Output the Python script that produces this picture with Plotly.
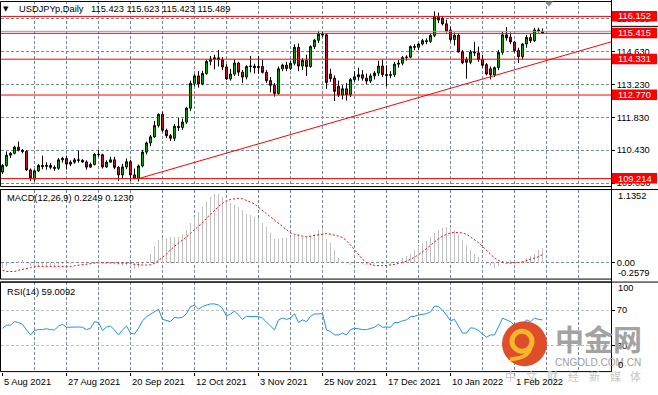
import plotly.graph_objects as go

# ---------------- data ----------------
bar_idx = list(range(136))
date_labels = ["5 Aug 2021", "27 Aug 2021", "20 Sep 2021", "12 Oct 2021", "3 Nov 2021",
               "25 Nov 2021", "17 Dec 2021", "10 Jan 2022", "1 Feb 2022"]
date_label_idx = [0, 16, 32, 48, 64, 80, 96, 112, 128]

open_ = [109.50, 109.78, 110.22, 110.30, 110.56, 110.43, 110.38, 109.59, 109.20, 109.55,
         109.78, 109.74, 109.78, 109.70, 109.66, 110.02, 110.08, 109.84, 109.92, 110.02,
         110.00, 109.93, 109.71, 109.82, 110.26, 110.24, 109.72, 109.92, 110.02, 109.70,
         109.38, 109.72, 109.94, 109.38, 109.22, 109.76, 110.35, 110.74, 111.00, 111.48,
         111.96, 111.28, 111.05, 110.94, 111.45, 111.40, 111.63, 112.22, 113.28, 113.60,
         113.26, 113.70, 114.22, 114.32, 114.37, 114.29, 113.98, 113.47, 113.68, 114.15,
         113.76, 113.55, 114.00, 114.02, 113.95, 114.00, 113.75, 113.40, 113.20, 112.85,
         113.90, 114.06, 113.92, 114.14, 114.82, 114.02, 114.26, 114.00, 114.85, 115.12,
         115.38, 115.35, 113.68, 113.50, 113.16, 112.78, 113.05, 112.80, 113.44, 113.56,
         113.65, 113.50, 113.38, 113.60, 113.72, 114.02, 113.66, 113.62, 113.65, 114.10,
         114.14, 114.38, 114.40, 114.85, 114.82, 114.96, 115.10, 115.07, 115.32, 116.12,
         116.05, 115.82, 115.55, 115.15, 115.33, 114.62, 114.30, 114.18, 114.62, 114.58,
         114.30, 114.08, 113.90, 113.65, 113.95, 114.60, 115.35, 115.25, 115.04, 114.68,
         114.42, 114.96, 115.24, 115.10, 115.56, 115.423]
high = [109.84, 110.38, 110.35, 110.62, 110.80, 110.48, 110.42, 109.65, 109.62, 109.85,
        110.20, 109.92, 109.88, 109.78, 110.10, 110.15, 110.20, 110.00, 110.10, 110.42,
        110.05, 110.00, 109.90, 110.30, 110.45, 110.28, 110.00, 110.15, 110.15, 109.75,
        109.85, 110.08, 110.02, 109.65, 109.82, 110.45, 110.80, 111.08, 111.68, 112.00,
        112.08, 111.35, 111.12, 111.55, 111.80, 111.78, 112.28, 113.40, 113.68, 113.80,
        113.82, 114.30, 114.45, 114.50, 114.70, 114.40, 114.10, 113.90, 114.30, 114.20,
        113.85, 114.05, 114.45, 114.12, 114.45, 114.30, 113.85, 113.55, 113.30, 114.00,
        114.12, 114.20, 114.25, 114.95, 114.98, 114.35, 114.50, 114.90, 115.18, 115.52,
        115.50, 115.42, 113.90, 113.62, 113.40, 113.20, 113.30, 113.50, 113.80, 113.95,
        113.85, 113.70, 113.70, 113.80, 114.25, 114.30, 114.05, 113.80, 114.20, 114.28,
        114.45, 114.48, 114.90, 114.95, 115.00, 115.18, 115.20, 115.40, 116.35, 116.30,
        116.15, 116.00, 115.70, 115.45, 115.40, 114.70, 114.40, 114.70, 115.05, 114.85,
        114.50, 114.15, 114.00, 114.00, 114.70, 115.48, 115.68, 115.45, 115.10, 114.80,
        115.00, 115.35, 115.40, 115.65, 115.65, 115.623]
low = [109.42, 109.72, 110.10, 110.25, 110.38, 110.30, 109.55, 109.11, 109.10, 109.50,
       109.62, 109.60, 109.62, 109.55, 109.60, 109.90, 109.60, 109.75, 109.85, 109.90,
       109.90, 109.60, 109.68, 109.78, 110.15, 109.65, 109.68, 109.90, 109.62, 109.12,
       109.20, 109.62, 109.12, 109.20, 109.10, 109.70, 110.25, 110.60, 110.95, 111.40,
       111.20, 110.95, 110.82, 110.82, 111.25, 111.30, 111.55, 112.10, 113.15, 113.10,
       113.20, 113.65, 114.05, 113.88, 114.00, 113.85, 113.42, 113.40, 113.60, 113.60,
       113.30, 113.45, 113.75, 113.70, 113.70, 113.70, 113.30, 112.90, 112.72, 112.80,
       113.80, 113.80, 113.85, 114.05, 113.80, 113.85, 113.60, 113.95, 114.75, 115.00,
       115.25, 113.05, 113.35, 112.53, 112.70, 112.60, 112.55, 112.70, 113.35, 113.40,
       113.40, 113.25, 113.30, 113.45, 113.60, 113.55, 113.15, 113.50, 113.55, 113.95,
       114.05, 114.25, 114.35, 114.70, 114.70, 114.90, 114.95, 115.00, 115.25, 115.85,
       115.75, 115.45, 115.05, 114.90, 114.60, 114.10, 113.48, 114.10, 114.45, 114.20,
       113.95, 113.62, 113.45, 113.55, 113.85, 114.50, 115.10, 114.95, 114.60, 114.15,
       114.30, 114.80, 115.00, 115.05, 115.45, 115.423]
close = [109.78, 110.22, 110.30, 110.56, 110.43, 110.38, 109.59, 109.24, 109.55, 109.78,
         109.74, 109.78, 109.70, 109.66, 110.02, 110.08, 109.84, 109.92, 110.02, 110.00,
         109.93, 109.71, 109.82, 110.26, 110.24, 109.72, 109.92, 110.02, 109.70, 109.38,
         109.72, 109.94, 109.38, 109.22, 109.76, 110.35, 110.74, 111.00, 111.48, 111.96,
         111.28, 111.05, 110.94, 111.45, 111.40, 111.63, 112.22, 113.28, 113.60, 113.26,
         113.70, 114.22, 114.32, 114.37, 114.29, 113.98, 113.47, 113.68, 114.15, 113.76,
         113.55, 114.00, 114.02, 113.95, 114.00, 113.75, 113.40, 113.20, 112.85, 113.90,
         114.06, 113.92, 114.14, 114.82, 114.02, 114.26, 114.00, 114.85, 115.12, 115.38,
         115.35, 113.32, 113.48, 112.94, 112.78, 113.05, 112.80, 113.44, 113.56, 113.65,
         113.50, 113.38, 113.60, 113.72, 114.02, 113.66, 113.62, 113.65, 114.10, 114.14,
         114.38, 114.40, 114.85, 114.82, 114.96, 115.10, 115.07, 115.32, 116.12, 115.98,
         115.82, 115.50, 115.15, 115.33, 114.62, 114.16, 114.18, 114.62, 114.58, 114.30,
         114.05, 113.68, 113.65, 113.95, 114.60, 115.35, 115.22, 115.05, 114.68, 114.42,
         114.96, 115.24, 115.10, 115.56, 115.52, 115.489]

macd_main = [-0.08, -0.05, -0.02, 0.01, 0.03, 0.04, 0.00, -0.05, -0.07, -0.07,
             -0.07, -0.06, -0.06, -0.06, -0.04, -0.02, -0.02, -0.02, -0.01, 0.00,
             0.00, -0.01, -0.01, 0.01, 0.03, 0.01, 0.00, 0.00, -0.01, -0.04,
             -0.05, -0.04, -0.07, -0.10, -0.08, -0.03, 0.03, 0.14, 0.25, 0.35,
             0.38, 0.38, 0.39, 0.40, 0.40, 0.45, 0.51, 0.61, 0.71, 0.79,
             0.87, 0.94, 1.02, 1.06, 1.06, 1.02, 0.97, 0.92, 0.89, 0.86,
             0.82, 0.76, 0.74, 0.71, 0.69, 0.62, 0.56, 0.46, 0.36, 0.36,
             0.38, 0.38, 0.40, 0.43, 0.43, 0.40, 0.40, 0.41, 0.45, 0.51,
             0.53, 0.36, 0.30, 0.20, 0.07, 0.03, -0.01, -0.04, -0.02, -0.01,
             -0.02, -0.04, -0.04, -0.03, -0.01, -0.02, -0.02, -0.02, 0.01, 0.03,
             0.07, 0.10, 0.14, 0.20, 0.25, 0.30, 0.34, 0.39, 0.46, 0.51,
             0.53, 0.55, 0.55, 0.51, 0.43, 0.35, 0.27, 0.20, 0.14, 0.08,
             0.02, -0.03, -0.06, -0.09, -0.06, 0.00, 0.03, 0.04, 0.03, 0.01,
             0.03, 0.07, 0.10, 0.14, 0.19, 0.2249]
macd_signal = [-0.12, -0.14, -0.14, -0.14, -0.12, -0.11, -0.09, -0.08, -0.06, -0.06,
               -0.06, -0.06, -0.07, -0.07, -0.07, -0.07, -0.07, -0.06, -0.05, -0.04,
               -0.03, -0.02, -0.015, -0.01, -0.005, -0.005, 0.0, 0.0, 0.0, 0.0,
               0.0, -0.005, -0.01, -0.03, -0.04, -0.04, -0.04, -0.035, -0.015, 0.03,
               0.08, 0.13, 0.20, 0.25, 0.29, 0.34, 0.40, 0.45, 0.51, 0.56,
               0.62, 0.69, 0.75, 0.82, 0.87, 0.92, 0.96, 0.98, 0.99, 1.00,
               0.99, 0.97, 0.94, 0.91, 0.86, 0.80, 0.75, 0.70, 0.65, 0.60,
               0.55, 0.51, 0.46, 0.44, 0.42, 0.41, 0.40, 0.41, 0.42, 0.43,
               0.44, 0.45, 0.44, 0.43, 0.41, 0.39, 0.34, 0.27, 0.20, 0.12,
               0.05, 0.00, -0.03, -0.045, -0.05, -0.05, -0.045, -0.04, -0.03, -0.015,
               0.0, 0.02, 0.05, 0.08, 0.12, 0.165, 0.22, 0.27, 0.32, 0.37,
               0.41, 0.44, 0.46, 0.47, 0.47, 0.46, 0.44, 0.40, 0.36, 0.31,
               0.25, 0.19, 0.12, 0.07, 0.03, 0.005, -0.01, -0.01, -0.01, 0.0,
               0.01, 0.03, 0.05, 0.07, 0.09, 0.1230]
rsi14 = [49.5, 53, 53, 57, 56, 54, 47.6, 42, 47, 48,
         48, 49, 48, 47.6, 52, 54, 50.6, 51, 51, 51,
         50.6, 48, 49.5, 57, 56, 47, 51, 52, 47.6, 42,
         47.6, 52, 44, 43, 49.5, 58, 62.6, 65.6, 68, 71,
         59.6, 58, 57, 62, 61, 62, 66, 74, 75.7, 71,
         74, 75.7, 77, 77, 75.7, 72, 63, 65.6, 69, 64.5,
         59.6, 63, 63, 62.6, 62.6, 61, 56, 52, 47.6, 59,
         61, 59.6, 61, 66, 56, 59, 57, 63, 65.6, 66,
         66, 47.6, 45.7, 42, 42, 44, 42, 48, 49.5, 49,
         48, 48, 49.5, 50.6, 54, 50.6, 51, 50.6, 56, 56,
         58, 59, 62.6, 63, 64.5, 65.6, 66, 68, 74.6, 74,
         70, 64.5, 58, 59.6, 52, 44, 44, 50, 49.5, 47,
         43, 39.4, 42, 42, 51, 61, 59, 57, 53, 49.5,
         53, 59, 57, 61, 59.6, 59.0092]

level_prices = [116.152, 115.415, 114.331, 112.770, 109.214]
bid_price = 115.489
trend_bar = [34.4, 152.1]
trend_price = [109.24, 115.05]
header_name = "USDJPYp,Daily"
header_ohlc = "115.423 115.623 115.423 115.489"

# ---------------- layout helpers (pixel geometry) ----------------
W, H = 658, 395
FONT = "Liberation Sans, Arial, sans-serif"
FS = 9.3
GRID = "#778899"


def px(x):
    return x / W


def py(y):
    return 1 - y / H


P0, Y0, K = 109.03, 184.0, 23.571   # price P0 sits at pixel row Y0; K px per unit


def price_at(y):
    return P0 + (Y0 - y) / K


def price_row(p):
    return round(Y0 - (p - P0) * K - 0.5) + 0.5


XR = [-0.375, 152.125]
grid_idx = list(range(8, 153, 8))

fig = go.Figure()

fig.add_trace(go.Candlestick(
    x=bar_idx, open=open_, high=high, low=low, close=close,
    increasing=dict(fillcolor="#00c000", line=dict(color="#000000", width=1)),
    decreasing=dict(fillcolor="#e0102e", line=dict(color="#000000", width=1)),
    whiskerwidth=0, hoverinfo="skip", showlegend=False, xaxis="x", yaxis="y"))

fig.add_trace(go.Scatter(x=trend_bar, y=trend_price, mode="lines",
                         line=dict(color="#ff0000", width=1),
                         hoverinfo="skip", showlegend=False, xaxis="x", yaxis="y"))

fig.add_trace(go.Bar(x=bar_idx, y=macd_main, width=0.3,
                     marker=dict(color="#c0c0c0", line=dict(width=0)),
                     hoverinfo="skip", showlegend=False, xaxis="x2", yaxis="y2"))
fig.add_trace(go.Scatter(x=bar_idx, y=macd_signal, mode="lines",
                         line=dict(color="#ff0000", width=1, dash="2px,2px"),
                         hoverinfo="skip", showlegend=False, xaxis="x2", yaxis="y2"))

fig.add_trace(go.Scatter(x=bar_idx, y=rsi14, mode="lines",
                         line=dict(color="#1e90ff", width=1),
                         hoverinfo="skip", showlegend=False, xaxis="x3", yaxis="y3"))
# carrier for the bottom tick marks axis
fig.add_trace(go.Scatter(x=[None], y=[None], mode="markers", hoverinfo="skip",
                         showlegend=False, xaxis="x4", yaxis="y3"))

xcommon = dict(range=XR, domain=[px(1), px(611)], tickmode="array", tickvals=grid_idx,
               showticklabels=False, ticks="", showgrid=True, gridcolor=GRID,
               griddash="3px,2px", gridwidth=1, zeroline=False, showline=False,
               fixedrange=True)
tickfont = dict(family=FONT, size=FS, color="#000000")

fig.update_layout(
    width=W, height=H, margin=dict(l=0, r=0, t=0, b=0, pad=0),
    paper_bgcolor="white", plot_bgcolor="white", showlegend=False,
    boxgap=0.32, bargap=0,
    xaxis=dict(**xcommon, anchor="y", rangeslider=dict(visible=False)),
    xaxis2=dict(**xcommon, anchor="y2"),
    xaxis3=dict(**xcommon, anchor="y3"),
    xaxis4=dict(range=XR, domain=[px(1), px(611)], overlaying="x3", anchor="y3",
                tickmode="array", tickvals=date_label_idx, showticklabels=False,
                ticks="outside", ticklen=3, tickcolor="#000000", showgrid=False,
                zeroline=False, showline=False, fixedrange=True),
    yaxis=dict(domain=[py(187.5), py(1.5)], range=[price_at(187.5), price_at(1.5)],
               anchor="x", side="right", tickmode="linear", tick0=109.03, dtick=1.4,
               tickformat=".3f", ticks="outside", ticklen=3, tickcolor="#000000",
               showgrid=True, gridcolor=GRID, griddash="3px,2px", zeroline=False,
               showline=False, tickfont=tickfont, fixedrange=True),
    yaxis2=dict(domain=[py(280.5), py(190.5)], range=[-0.2579, 1.1352], anchor="x2",
                side="right", tickmode="array", tickvals=[0], ticktext=["0.00"],
                ticks="outside", ticklen=3, tickcolor="#000000", showgrid=True,
                gridcolor=GRID, griddash="3px,2px", zeroline=False, showline=False,
                tickfont=tickfont, fixedrange=True),
    yaxis3=dict(domain=[py(373.5), py(283.5)], range=[0.56, 101.7], anchor="x3",
                side="right", tickmode="array", tickvals=[70, 30], ticktext=["70", "30"],
                ticks="outside", ticklen=3, tickcolor="#000000", showgrid=True,
                gridcolor="#c0c0c0", griddash="3px,2px", zeroline=False, showline=False,
                tickfont=tickfont, fixedrange=True),
)

shapes = []
ann = []

# horizontal levels + bid line
yb = price_row(bid_price)
shapes.append(dict(type="line", xref="paper", yref="paper", x0=px(1), x1=px(611),
                   y0=py(yb), y1=py(yb), line=dict(color="#9a9a9a", width=1)))
shapes.append(dict(type="line", xref="paper", yref="paper", x0=px(611.5), x1=px(658),
                   y0=py(26.5), y1=py(26.5), line=dict(color="#000000", width=1)))
for lv in level_prices:
    r = price_row(lv)
    shapes.append(dict(type="line", xref="paper", yref="paper", x0=px(1), x1=px(611),
                       y0=py(r), y1=py(r), line=dict(color="#ff0000", width=1)))
    shapes.append(dict(type="rect", xref="paper", yref="paper", x0=px(612), x1=px(657),
                       y0=py(r - 5.5), y1=py(r + 5), fillcolor="#ff0000",
                       line=dict(width=0), layer="above"))
    ann.append(dict(xref="paper", yref="paper", x=px(634.5), y=py(r), text=f"{lv:.3f}",
                    showarrow=False, xanchor="center", yanchor="middle",
                    font=dict(family=FONT, size=FS, color="#ffffff")))

# panel frames
for top, bot in [(1.5, 187.5), (190.5, 280.5), (283.5, 373.5)]:
    shapes.append(dict(type="rect", xref="paper", yref="paper", x0=px(0.5), x1=px(611.5),
                       y0=py(bot), y1=py(top), line=dict(color="#000000", width=1),
                       fillcolor="rgba(0,0,0,0)", layer="above"))
for yy in [190.5, 283.5]:
    shapes.append(dict(type="line", xref="paper", yref="paper", x0=0, x1=1,
                       y0=py(yy), y1=py(yy), line=dict(color="#000000", width=1)))
shapes.append(dict(type="line", xref="paper", yref="paper", x0=px(611.5), x1=px(611.5),
                   y0=py(0), y1=py(373.5), line=dict(color="#000000", width=1)))

# chart-shift marker
shapes.append(dict(type="path", xref="paper", yref="paper",
                   path=f"M {px(545)} {py(1.5)} L {px(553)} {py(1.5)} L {px(549)} {py(6.5)} Z",
                   fillcolor="#8a8a8a", line=dict(width=0), layer="above"))

# watermark logo
shapes.append(dict(type="circle", xref="paper", yref="paper", x0=px(502), x1=px(547),
                   y0=py(368), y1=py(323), fillcolor="#dc4420", line=dict(width=0),
                   layer="above", opacity=0.95))
shapes.append(dict(type="circle", xref="paper", yref="paper", x0=px(512), x1=px(532),
                   y0=py(353), y1=py(333), fillcolor="rgba(0,0,0,0)",
                   line=dict(color="#f6b62b", width=5), layer="above"))
shapes.append(dict(type="path", xref="paper", yref="paper",
                   path=f"M {px(531)} {py(344)} Q {px(532)} {py(360)} {px(510)} {py(361)}",
                   line=dict(color="#f6b62b", width=4), layer="above"))

ann.append(dict(xref="paper", yref="paper", x=px(598), y=py(340), text="<b>中金网</b>",
                showarrow=False, xanchor="center", yanchor="middle",
                font=dict(family="Noto Sans CJK SC", size=29, color="#a3a3a3")))
ann.append(dict(xref="paper", yref="paper", x=px(598), y=py(364), text="CNGOLD.COM.CN",
                showarrow=False, xanchor="center", yanchor="middle",
                font=dict(family=FONT, size=10, color="#a0a0a0")))
for k, ch in enumerate("中文财经新媒体"):
    ann.append(dict(xref="paper", yref="paper", x=px(511 + k * 20.8), y=py(378), text=ch,
                    showarrow=False, xanchor="center", yanchor="middle",
                    font=dict(family="Noto Sans CJK SC", size=11, color="#c6c6c6")))

# header and indicator captions
ann.append(dict(xref="paper", yref="paper", x=px(6), y=py(9.5), text="▼",
                showarrow=False, xanchor="center", yanchor="middle",
                font=dict(family="DejaVu Sans", size=7, color="#000000")))
ann.append(dict(xref="paper", yref="paper", x=px(17), y=py(9.5), text=header_name,
                showarrow=False, xanchor="left", yanchor="middle",
                font=dict(family=FONT, size=FS, color="#000000")))
ann.append(dict(xref="paper", yref="paper", x=px(89), y=py(9.5), text=header_ohlc,
                showarrow=False, xanchor="left", yanchor="middle",
                font=dict(family=FONT, size=FS, color="#000000")))
ann.append(dict(xref="paper", yref="paper", x=px(5), y=py(199),
                text=f"MACD(12,26,9) {macd_main[-1]:.4f} {macd_signal[-1]:.4f}",
                showarrow=False, xanchor="left", yanchor="middle",
                font=dict(family=FONT, size=FS, color="#000000")))
ann.append(dict(xref="paper", yref="paper", x=px(5), y=py(293),
                text=f"RSI(14) {rsi14[-1]:.4f}",
                showarrow=False, xanchor="left", yanchor="middle",
                font=dict(family=FONT, size=FS, color="#000000")))

# right-scale extreme labels of the sub windows
for txt, yy in [("1.1352", 197), ("-0.2579", 274), ("100", 289), ("0", 367)]:
    ann.append(dict(xref="paper", yref="paper", x=px(616), y=py(yy), text=txt,
                    showarrow=False, xanchor="left", yanchor="middle",
                    font=dict(family=FONT, size=FS, color="#000000")))

# date labels (left aligned at their bar)
for i, lab in zip(date_label_idx, date_labels):
    ann.append(dict(xref="x3", yref="paper", x=i - 0.15, y=py(383.5), text=lab,
                    showarrow=False, xanchor="left", yanchor="middle",
                    font=dict(family=FONT, size=FS, color="#000000")))

fig.update_layout(shapes=shapes, annotations=ann)
fig.write_html("out.html",
               config={"displayModeBar": False, "staticPlot": True},
               post_script="document.body.style.margin='0';document.body.style.padding='0';"
                           "document.documentElement.style.overflow='hidden';")
